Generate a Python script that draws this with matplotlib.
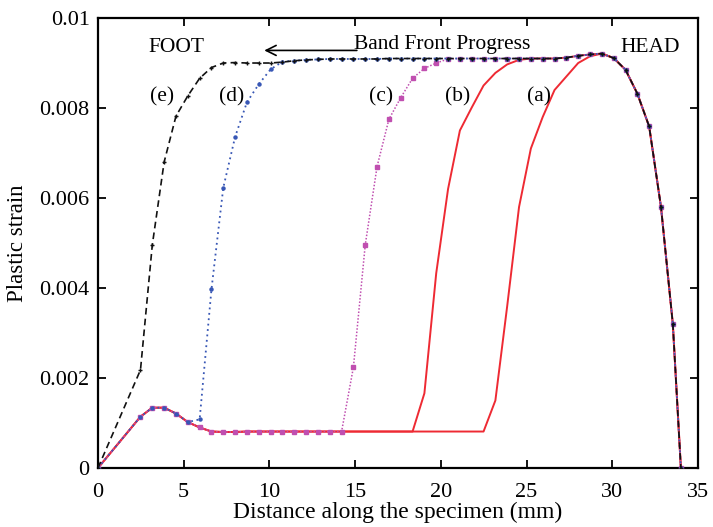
import matplotlib
matplotlib.use("Agg")
import matplotlib.pyplot as plt
from matplotlib.ticker import FuncFormatter

plt.rcParams['font.family'] = ['Liberation Serif', 'DejaVu Serif']

# node positions along the specimen (mm)
x_nodes = [0.0, 2.48, 3.17, 3.86, 4.55, 5.24, 5.93, 6.62, 7.31, 8.00,
           8.69, 9.38, 10.07, 10.76, 11.45, 12.14, 12.83, 13.52, 14.21, 14.90,
           15.59, 16.28, 16.97, 17.66, 18.35, 19.04, 19.73, 20.42, 21.11, 21.80,
           22.49, 23.18, 23.87, 24.56, 25.25, 25.94, 26.63, 27.32, 28.01, 28.70,
           29.39, 30.08, 30.77, 31.46, 32.15, 32.84, 33.53, 34.00]

strain_a = [0.0, 0.00114, 0.00134, 0.00134, 0.00121, 0.00102, 0.00090, 0.00081, 0.00080, 0.00080,
            0.00081, 0.00081, 0.00081, 0.00081, 0.00081, 0.00081, 0.00081, 0.00081, 0.00081, 0.00081,
            0.00081, 0.00081, 0.00081, 0.00081, 0.00081, 0.00081, 0.00081, 0.00081, 0.00081, 0.00081,
            0.00081, 0.00150, 0.00360, 0.00580, 0.00710, 0.00780, 0.00840, 0.00870, 0.00900, 0.00915,
            0.00921, 0.00911, 0.00885, 0.00832, 0.00759, 0.00580, 0.00320, 0.0]

strain_b = [0.0, 0.00114, 0.00134, 0.00134, 0.00121, 0.00102, 0.00090, 0.00081, 0.00080, 0.00080,
            0.00081, 0.00081, 0.00081, 0.00081, 0.00081, 0.00081, 0.00081, 0.00081, 0.00081, 0.00081,
            0.00081, 0.00081, 0.00081, 0.00081, 0.00081, 0.00166, 0.00433, 0.00620, 0.00750, 0.00801,
            0.00850, 0.00878, 0.00897, 0.00907, 0.00910, 0.00910, 0.00910, 0.00912, 0.00916, 0.00919,
            0.00921, 0.00911, 0.00885, 0.00832, 0.00759, 0.00580, 0.00320, 0.0]

strain_c = [0.0, 0.00114, 0.00134, 0.00134, 0.00121, 0.00102, 0.00090, 0.00081, 0.00080, 0.00080,
            0.00081, 0.00081, 0.00081, 0.00081, 0.00081, 0.00081, 0.00081, 0.00081, 0.00081, 0.00224,
            0.00496, 0.00670, 0.00775, 0.00823, 0.00866, 0.00888, 0.00900, 0.00909, 0.00910, 0.00910,
            0.00910, 0.00910, 0.00910, 0.00910, 0.00910, 0.00910, 0.00910, 0.00912, 0.00916, 0.00919,
            0.00921, 0.00911, 0.00885, 0.00832, 0.00759, 0.00580, 0.00320, 0.0]

strain_d = [0.0, 0.00114, 0.00134, 0.00134, 0.00121, 0.00102, 0.00108, 0.00397, 0.00623, 0.00736,
            0.00813, 0.00853, 0.00886, 0.00903, 0.00905, 0.00907, 0.00908, 0.00909, 0.00909, 0.00909,
            0.00909, 0.00909, 0.00910, 0.00910, 0.00910, 0.00910, 0.00910, 0.00910, 0.00910, 0.00910,
            0.00910, 0.00910, 0.00910, 0.00910, 0.00910, 0.00910, 0.00910, 0.00912, 0.00916, 0.00919,
            0.00921, 0.00911, 0.00885, 0.00832, 0.00759, 0.00580, 0.00320, 0.0]

strain_e = [0.0, 0.00218, 0.00496, 0.00680, 0.00782, 0.00827, 0.00866, 0.00890, 0.00900, 0.00901,
            0.00900, 0.00900, 0.00900, 0.00902, 0.00905, 0.00907, 0.00908, 0.00909, 0.00909, 0.00909,
            0.00909, 0.00909, 0.00910, 0.00910, 0.00910, 0.00910, 0.00910, 0.00910, 0.00910, 0.00910,
            0.00910, 0.00910, 0.00910, 0.00910, 0.00910, 0.00910, 0.00910, 0.00912, 0.00916, 0.00919,
            0.00921, 0.00911, 0.00885, 0.00832, 0.00759, 0.00580, 0.00320, 0.0]

curve_labels = ['(a)', '(b)', '(c)', '(d)', '(e)']
label_x = [25.7, 21.0, 16.5, 7.8, 3.75]
label_y = 0.00824

fig = plt.figure(figsize=(7.13, 5.27), dpi=100)
ax = fig.add_axes([0.1374, 0.112, 0.8416, 0.8538])

red = '#ee2a33'
ax.plot(x_nodes, strain_a, color=red, lw=1.4, zorder=2)
ax.plot(x_nodes, strain_b, color=red, lw=1.4, zorder=2)
ax.plot(x_nodes, strain_c, color='#c04fb0', lw=1.1, ls=(0, (1, 1.2)),
        marker='s', ms=3, mfc='#c04fb0', mec='#c04fb0', zorder=3)
ax.plot(x_nodes, strain_d, color='#3857b5', lw=1.3, ls=(0, (1, 2)),
        marker='o', ms=2.2, mfc='#3857b5', mec='#3857b5', zorder=4)
ax.plot(x_nodes, strain_e, color='#111111', lw=1.2, ls=(0, (4, 2.5)),
        marker='+', ms=3.5, mew=1.0, zorder=5)

for lab, lx in zip(curve_labels, label_x):
    ax.text(lx, label_y, lab, fontsize=15.5, ha='center', va='center')

ax.text(4.6, 0.00935, 'FOOT', fontsize=15.5, ha='center', va='center')
ax.text(32.2, 0.00935, 'HEAD', fontsize=15.5, ha='center', va='center')
ax.text(20.1, 0.00942, 'Band Front Progress', fontsize=15.5, ha='center', va='center')
ax.annotate('', xy=(9.7, 0.00928), xytext=(15.1, 0.00928),
            arrowprops=dict(arrowstyle='->', color='black', lw=1.2,
                            shrinkA=0, shrinkB=0, mutation_scale=18))

ax.set_xlim(0, 35)
ax.set_ylim(0, 0.01)
ax.set_xticks([0, 5, 10, 15, 20, 25, 30, 35])
ax.set_yticks([0, 0.002, 0.004, 0.006, 0.008, 0.01])
ax.yaxis.set_major_formatter(FuncFormatter(lambda v, p: '%g' % v))
ax.tick_params(direction='in', top=True, right=True, length=6, width=1.3,
               labelsize=16)
ax.tick_params(axis='y', pad=6)
ax.tick_params(axis='x', pad=11)
for s in ax.spines.values():
    s.set_linewidth(1.6)

ax.set_xlabel('Distance along the specimen (mm)', fontsize=17, labelpad=0)
ax.set_ylabel('Plastic strain', fontsize=16.5, labelpad=8)

fig.savefig('out.png', dpi=100)
